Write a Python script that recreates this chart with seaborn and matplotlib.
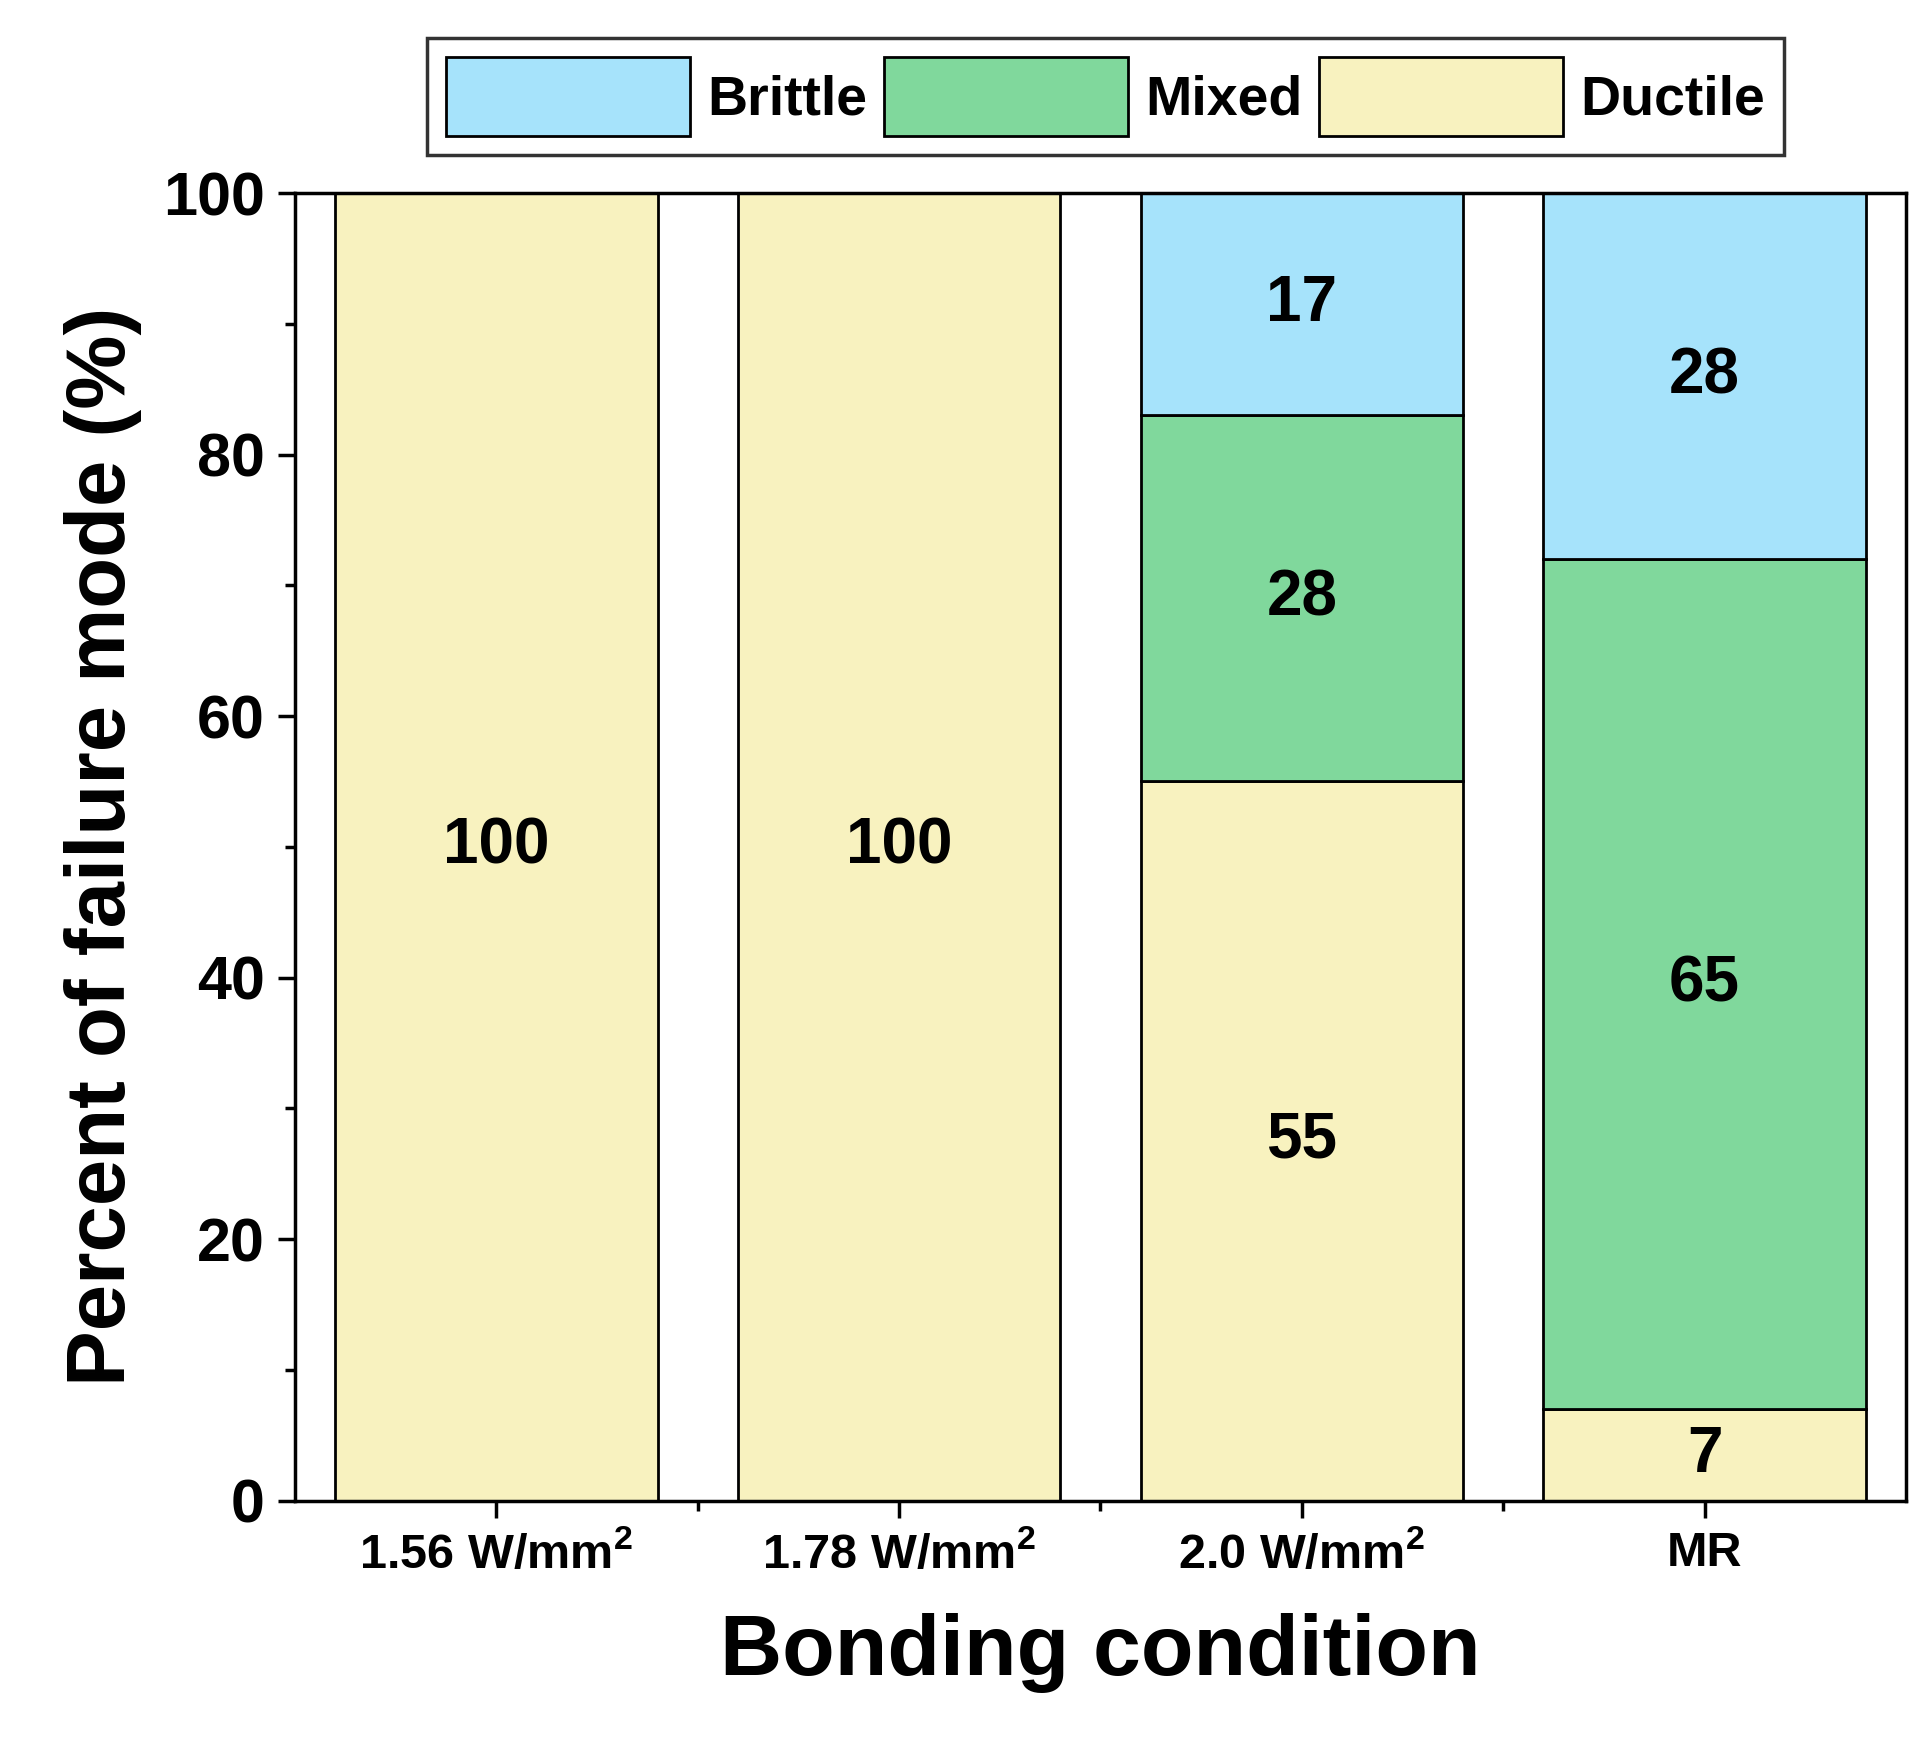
import matplotlib
matplotlib.use("Agg")
import matplotlib.pyplot as plt
import seaborn as sns
import numpy as np
import pandas as pd
from matplotlib.patches import Patch
from matplotlib.ticker import MultipleLocator

categories = ["1.56 W/mm$^2$", "1.78 W/mm$^2$", "2.0 W/mm$^2$", "MR"]
ductile = [100, 100, 55, 7]
mixed = [0, 0, 28, 65]
brittle = [0, 0, 17, 28]
colors = {"Brittle": "#a6e3fb", "Mixed": "#80d89c", "Ductile": "#f8f2bf"}

sns.set_theme(style="ticks")
plt.rcParams['font.family'] = ['Liberation Sans', 'DejaVu Sans']
plt.rcParams['font.weight'] = 'bold'
plt.rcParams['mathtext.default'] = 'regular'
for k in ['text.color', 'axes.labelcolor', 'xtick.color', 'ytick.color', 'axes.edgecolor']:
    plt.rcParams[k] = 'black'

fig = plt.figure(figsize=(19.29, 17.55), dpi=100)
ax = fig.add_axes([0.153, 0.145, 0.835, 0.745])

df = pd.DataFrame({"cat": categories, "Ductile": ductile, "Mixed": mixed, "Brittle": brittle})
bottoms = np.zeros(4)
for name in ["Ductile", "Mixed", "Brittle"]:
    vals = np.array(df[name], dtype=float)
    sns.barplot(x=df["cat"], y=vals, bottom=bottoms, color=colors[name], width=0.8,
                edgecolor="black", linewidth=2, saturation=1, ax=ax)
    for i, v in enumerate(vals):
        if v > 0:
            ax.text(i, bottoms[i] + v / 2, f"{int(v)}", ha="center", va="center",
                    fontsize=46, fontweight="bold", color="black")
    bottoms = bottoms + vals

ax.set_xlim(-0.5, 3.5)
ax.set_ylim(0, 100)
ax.yaxis.set_major_locator(MultipleLocator(20))
ax.yaxis.set_minor_locator(MultipleLocator(10))
ax.set_xticks([0, 1, 2, 3])
ax.set_xticks([0.5, 1.5, 2.5], minor=True)
ax.tick_params(axis="both", which="major", direction="out", length=12, width=2.5, pad=10)
ax.tick_params(axis="both", which="minor", direction="out", length=7, width=2.5)
ax.tick_params(axis="y", labelsize=44)
ax.tick_params(axis="x", labelsize=35)
for lab in ax.get_xticklabels() + ax.get_yticklabels():
    lab.set_fontweight("bold")
for s in ax.spines.values():
    s.set_linewidth(2.5)
ax.set_xlabel("Bonding condition", fontsize=62, fontweight="bold", labelpad=25)
ax.set_ylabel("Percent of failure mode (%)", fontsize=60, fontweight="bold", labelpad=15)

handles = [Patch(facecolor=colors[n], edgecolor="black", linewidth=2, label=n)
           for n in ["Brittle", "Mixed", "Ductile"]]
leg = fig.legend(handles=handles, loc="center", bbox_to_anchor=(0.573, 0.945), ncol=3,
                 fontsize=40, handlelength=4.4, handleheight=1.8, handletextpad=0.3,
                 columnspacing=0.3, frameon=True, fancybox=False, borderpad=0.35)
leg.get_frame().set_edgecolor("black")
leg.get_frame().set_linewidth(2.5)
for t in leg.get_texts():
    t.set_fontweight("bold")

fig.savefig("out.png", dpi=100)
